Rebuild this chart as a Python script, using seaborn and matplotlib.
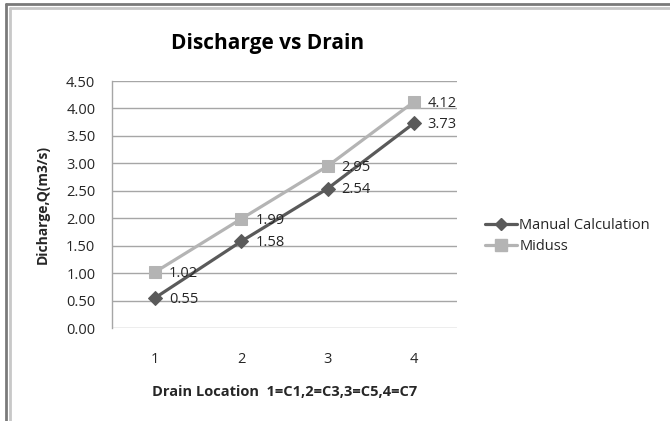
import matplotlib
matplotlib.use("Agg")
import matplotlib.pyplot as plt
import seaborn as sns
import pandas as pd
from matplotlib.lines import Line2D

locations = [1, 2, 3, 4]
manual = [0.55, 1.58, 2.54, 3.73]
miduss = [1.02, 1.99, 2.95, 4.12]
series_names = ["Manual Calculation", "Miduss"]
y_ticks = [0.0, 0.5, 1.0, 1.5, 2.0, 2.5, 3.0, 3.5, 4.0, 4.5]

df = pd.DataFrame({
    "loc": locations * 2,
    "Q": manual + miduss,
    "series": [series_names[0]] * 4 + [series_names[1]] * 4,
})

sns.set_theme(style="white")
plt.rcParams["font.family"] = ["Open Sans", "DejaVu Sans"]

fig = plt.figure(figsize=(6.70, 4.21), dpi=100)
ax = fig.add_axes([112 / 670, 1 - 328 / 421, 345 / 670, 247 / 421])

colors = {series_names[0]: "#5a5a5a", series_names[1]: "#b4b4b4"}
markers = {series_names[0]: "D", series_names[1]: "s"}
sizes_m = {series_names[0]: 7, series_names[1]: 9}

for name in series_names:
    sub = df[df["series"] == name]
    sns.lineplot(data=sub, x="loc", y="Q", ax=ax, color=colors[name],
                 marker=markers[name], markersize=sizes_m[name],
                 markeredgecolor=colors[name], linewidth=2.3, label=name,
                 legend=False)
    for xv, yv in zip(sub["loc"], sub["Q"]):
        ax.annotate(f"{yv:.2f}", (xv, yv), xytext=(10, -1), textcoords="offset points",
                    ha="left", va="center", fontsize=10.5, color="#262626")

ax.set_xlim(0.5, 4.5)
ax.set_ylim(0, 4.5)
ax.set_yticks(y_ticks)
ax.set_yticklabels([f"{v:.2f}" for v in y_ticks])
ax.set_xticks(locations)
ax.set_xticklabels([str(v) for v in locations])
ax.tick_params(axis="both", labelsize=10.5, labelcolor="#262626", length=0)
ax.tick_params(axis="y", pad=12)
ax.tick_params(axis="x", pad=17)
ax.grid(axis="y", color="#a6a6a6", linewidth=1)
ax.set_axisbelow(True)
for s in ["top", "right", "bottom"]:
    ax.spines[s].set_visible(False)
ax.spines["left"].set_color("#a6a6a6")
ax.spines["left"].set_linewidth(1)

ax.set_xlabel("Drain Location  1=C1,2=C3,3=C5,4=C7", fontsize=10.5, fontweight="bold",
              color="#262626", labelpad=13)
ax.set_ylabel("Dicharge,Q(m3/s)", fontsize=10, fontweight="bold", color="#262626",
              labelpad=12)

fig.text(0.5 * (175 + 360) / 670, 1 - 43 / 421, "Discharge vs Drain", ha="center",
         va="center", fontsize=15, fontweight="bold", color="black")

handles = [Line2D([], [], color=colors[n], marker=markers[n], markersize=sizes_m[n] - 1,
                  linewidth=2.3) for n in series_names]
fig.legend(handles, series_names, loc="center left",
           bbox_to_anchor=(472 / 670, 1 - 236 / 421), frameon=False, fontsize=10.5,
           handlelength=2.2, handletextpad=0.15, labelspacing=0.45, labelcolor="#262626")

# outer chart border
fig.add_artist(Line2D([5.5 / 670, 5.5 / 670], [0, 1 - 3.5 / 421], transform=fig.transFigure,
                      color="#7a7a7a", linewidth=2))
fig.add_artist(Line2D([5.5 / 670, 1], [1 - 3.5 / 421, 1 - 3.5 / 421], transform=fig.transFigure,
                      color="#7a7a7a", linewidth=2))
fig.add_artist(Line2D([9.5 / 670, 9.5 / 670], [0, 1 - 7.5 / 421], transform=fig.transFigure,
                      color="#c8c8c8", linewidth=2))
fig.add_artist(Line2D([9.5 / 670, 1], [1 - 7.5 / 421, 1 - 7.5 / 421], transform=fig.transFigure,
                      color="#c8c8c8", linewidth=2))

fig.savefig("out.png", dpi=100)
